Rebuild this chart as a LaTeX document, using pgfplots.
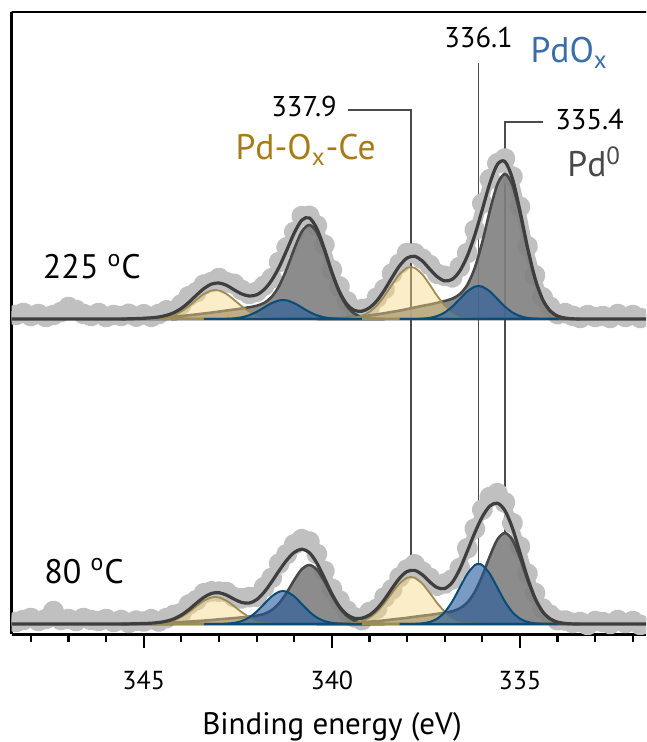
\documentclass[border=0pt]{standalone}
\usepackage{pgfplots}
\pgfplotsset{compat=1.18}
\usepackage{fontspec}
\setmainfont{PT Sans}
\newcommand\fs[1]{\fontsize{#1}{#1}\selectfont}
\definecolor{rawgray}{RGB}{192,192,192}
\definecolor{envgray}{RGB}{62,62,62}
\definecolor{pdgray}{RGB}{128,128,128}
\definecolor{pdline}{RGB}{72,72,72}
\definecolor{oxfill}{RGB}{34,90,157}
\definecolor{oxline}{RGB}{10,76,120}
\definecolor{cefill}{RGB}{246,216,130}
\definecolor{celine}{RGB}{160,140,80}
\definecolor{cetext}{RGB}{166,124,22}
\definecolor{oxtext}{RGB}{58,110,168}
\definecolor{dropline}{RGB}{75,75,75}
\pgfplotsset{
  raw/.style={rawgray, line width=5pt, line join=round, line cap=round, mark=*, mark size=2.8pt,
              mark options={draw=none, fill=rawgray}},
  envelope/.style={envgray, line width=1.6pt, smooth, no marks},
  pdzero/.style={draw=pdline, line width=1.3pt, fill=pdgray, fill opacity=0.9, smooth, no marks},
  pdox/.style={draw=oxline, line width=1pt, fill=oxfill, fill opacity=0.6, smooth, no marks},
  pdce/.style={draw=celine, line width=0.9pt, fill=cefill, fill opacity=0.45, smooth, no marks},
  drop/.style={dropline, line width=0.85pt, no marks},
}
\begin{document}
\begin{tikzpicture}
\useasboundingbox (-5.85pt,-54pt) rectangle (317.15pt,317pt);
\begin{axis}[
  scale only axis, width=317.15pt, height=311pt,
  x dir=reverse, xmin=331.65, xmax=348.51, ymin=-10, ymax=612,
  axis x line*=bottom, axis y line*=left,
  axis line style={-, line width=1.5pt, black},
  ytick=\empty, xtick={335,340,345},
  minor xtick={332,333,334,336,337,338,339,341,342,343,344,346,347,348},
  tick align=outside, major tick length=7pt, minor tick length=4pt,
  every tick/.style={black, line width=1.1pt},
  xticklabel style={font=\fs{13}, yshift=-8pt},
  /pgf/number format/assume math mode=true,
  xlabel={Binding energy (eV)},
  x label style={font=\fs{15.5}, at={(axis description cs:0.505,0)}, anchor=base, yshift=-50pt},
  clip=true, clip marker paths=true,
]
\draw[line width=1.5pt, line cap=rect] (rel axis cs:0,1) -- (rel axis cs:1,1);

% peak position guides
\addplot[drop] coordinates {(339.58,514) (337.9,514) (337.9,47)};
\addplot[drop] coordinates {(336.1,561) (336.1,60)};
\addplot[drop] coordinates {(334.39,502.3) (335.4,502.3) (335.4,91)};

% measured spectra
\addplot[raw] coordinates {
(331.6,308) (331.8,306) (332.0,309) (332.2,307) (332.4,310) (332.6,306) (332.8,308)
(333.0,307) (333.2,309) (333.4,306) (333.6,308.2) (333.8,310.9) (334.0,309.9) (334.2,317.2)
(334.4,326.7) (334.6,348.7) (334.8,377.7) (335.0,417.2) (335.2,447.4) (335.4,465.4)
(335.6,460.6) (335.8,444.8) (336.0,420.6) (336.2,394.0) (336.4,370.9) (336.6,357.0)
(336.8,346.7) (337.0,348.1) (337.2,350.3) (337.4,359.0) (337.6,365.2) (337.8,370.7)
(338.0,371.0) (338.2,360.2) (338.4,350.5) (338.6,335.0) (338.8,326.4) (339.0,316.2)
(339.2,314.8) (339.4,314.6) (339.6,322.7) (339.8,337.5) (340.0,354.0) (340.2,379.2)
(340.4,398.5) (340.6,408.1) (340.8,407.8) (341.0,392.0) (341.2,376.7) (341.4,362.0)
(341.6,345.7) (341.8,338.4) (342.0,332.2) (342.2,330.0) (342.4,334.1) (342.6,340.2)
(342.8,341.7) (343.0,346.0) (343.2,341.9) (343.4,339.4) (343.6,331.8) (343.8,327.7)
(344.0,319.6) (344.2,313.3) (344.4,313.6) (344.6,310.0) (344.8,307.2) (345.0,309.7)
(345.2,307.4) (345.4,310.2) (345.6,308) (345.8,309) (346.0,307) (346.2,311) (346.4,308)
(346.6,310) (346.8,314) (347.0,317) (347.2,312) (347.4,309) (347.6,307) (347.8,310)
(348.0,308) (348.2,311) (348.4,309) (348.6,307)};
\addplot[raw] coordinates {
(331.6,2) (331.8,-1) (332.0,3) (332.2,1) (332.4,4) (332.6,0) (332.8,2) (333.0,3)
(333.2,-1) (333.4,2) (333.6,1.1) (333.8,3.5) (334.0,3.8) (334.2,9.2) (334.4,15.5)
(334.6,31.0) (334.8,50.3) (335.0,77.4) (335.2,100.9) (335.4,121.5) (335.6,130.8)
(335.8,127.0) (336.0,114.3) (336.2,95.3) (336.4,75.7) (336.6,55.8) (336.8,44.6)
(337.0,40.5) (337.2,38.4) (337.4,46.2) (337.6,52.4) (337.8,59.6) (338.0,54.5)
(338.2,46.8) (338.4,34.6) (338.6,26.6) (338.8,15.3) (339.0,12.0) (339.2,3.8) (339.4,6.7)
(339.6,13.4) (339.8,23.5) (340.0,35.2) (340.2,53.0) (340.4,70.0) (340.6,82.4)
(340.8,84.8) (341.0,79.6) (341.2,69.8) (341.4,60.4) (341.6,46.1) (341.8,36.8)
(342.0,27.3) (342.2,26.9) (342.4,25.6) (342.6,26.9) (342.8,31.9) (343.0,32.3)
(343.2,32.6) (343.4,30.7) (343.6,23.8) (343.8,19.4) (344.0,11.0) (344.2,9.1) (344.4,5.8)
(344.6,2.5) (344.8,4.8) (345.0,2.5) (345.2,3.3) (345.4,1.1) (345.6,4) (345.8,2) (346.0,5)
(346.2,3) (346.4,4) (346.6,6) (346.8,3) (347.0,5) (347.2,4) (347.4,13) (347.6,5)
(347.8,3) (348.0,6) (348.2,4) (348.4,2) (348.6,5)};

% ---- 225 C fit components ----
\addplot[pdzero] coordinates {
(333.4,305.0) (333.6,305.2) (333.8,305.9) (334.0,307.9) (334.2,313.1) (334.4,324.6)
(334.6,345.3) (334.8,375.6) (335.0,410.3) (335.2,438.9) (335.4,450.0) (335.6,439.6)
(335.8,413.2) (336.0,382.1) (336.2,356.2) (336.4,339.1) (336.6,329.8) (336.8,325.3)
(337.0,323.0) (337.2,321.2) (337.4,319.5) (337.6,318.1) (337.8,316.5) (338.0,314.9)
(338.2,313.4) (338.4,312.1) (338.6,310.8) (338.8,309.6) (339.0,308.6) (339.2,307.8)
(339.4,307.0) (339.6,306.5) (339.8,306.0) (340.0,305.6) (340.2,305.3) (340.4,305.0)} -- cycle;
\addplot[pdzero] coordinates {
(338.6,305.0) (338.8,305.1) (339.0,305.6) (339.2,306.9) (339.4,310.3) (339.6,317.7)
(339.8,331.1) (340.0,350.8) (340.2,373.3) (340.4,391.8) (340.6,399.0) (340.8,392.2)
(341.0,375.1) (341.2,355.0) (341.4,338.2) (341.6,327.1) (341.8,321.1) (342.0,318.2)
(342.2,316.7) (342.4,315.5) (342.6,314.4) (342.8,313.5) (343.0,312.4) (343.2,311.4)
(343.4,310.5) (343.6,309.6) (343.8,308.8) (344.0,308.0) (344.2,307.4) (344.4,306.8)
(344.6,306.3) (344.8,305.9) (345.0,305.7) (345.2,305.4) (345.4,305.2) (345.6,305.0)} -- cycle;
\addplot[pdce] coordinates {
(335.6,305) (335.8,305.04) (336.0,305.14) (336.2,305.44) (336.4,306.26) (336.6,308.18)
(336.8,312.04) (337.0,318.63) (337.2,328.13) (337.4,339.40) (337.6,349.81) (337.8,356.15)
(337.9,357) (338.0,356.15) (338.2,349.81) (338.4,339.40) (338.6,328.13) (338.8,318.63)
(339.0,312.04) (339.2,308.18) (339.4,306.26) (339.6,305.44) (339.8,305.14) (340.0,305.04)
(340.2,305)} -- cycle;
\addplot[pdce] coordinates {
(340.8,305) (341.0,305.02) (341.2,305.08) (341.4,305.24) (341.6,305.70) (341.8,306.77)
(342.0,308.92) (342.2,312.60) (342.4,317.90) (342.6,324.18) (342.8,329.99) (343.0,333.52)
(343.1,334) (343.2,333.52) (343.4,329.99) (343.6,324.18) (343.8,317.90) (344.0,312.60)
(344.2,308.92) (344.4,306.77) (344.6,305.70) (344.8,305.24) (345.0,305.08) (345.2,305.02)
(345.4,305)} -- cycle;
\addplot[pdox] coordinates {
(334.0,305) (334.2,305.02) (334.4,305.10) (334.6,305.37) (334.8,306.12) (335.0,307.93)
(335.2,311.53) (335.4,317.38) (335.6,325.01) (335.8,332.56) (336.0,337.35) (336.1,338.0)
(336.2,337.35) (336.4,332.56) (336.6,325.01) (336.8,317.38) (337.0,311.53) (337.2,307.93)
(337.4,306.12) (337.6,305.37) (337.8,305.10) (338.0,305.02) (338.2,305)} -- cycle;
\addplot[pdox] coordinates {
(339.2,305) (339.4,305.01) (339.6,305.06) (339.8,305.21) (340.0,305.65) (340.2,306.69)
(340.4,308.76) (340.6,312.13) (340.8,316.52) (341.0,320.87) (341.2,323.62) (341.3,324)
(341.4,323.62) (341.6,320.87) (341.8,316.52) (342.0,312.13) (342.2,308.76) (342.4,306.69)
(342.6,305.65) (342.8,305.21) (343.0,305.06) (343.2,305.01) (343.4,305)} -- cycle;
\addplot[envelope] coordinates {
(331.6,305) (332.2,305) (332.7,305) (333.0,305) (333.2,305) (333.4,305) (333.6,305.2)
(333.8,305.9) (334.0,307.9) (334.2,313.2) (334.4,324.7) (334.6,345.7) (334.8,376.7)
(335.0,413.2) (335.2,445.4) (335.4,462.4) (335.6,459.6) (335.8,440.8) (336.0,414.6)
(336.2,389.0) (336.4,367.9) (336.6,353.0) (336.8,344.7) (337.0,343.1) (337.2,347.3)
(337.4,355.0) (337.6,363.2) (337.8,367.7) (338.0,366.0) (338.2,358.2) (338.4,346.5)
(338.6,334.0) (338.8,323.4) (339.0,316.2) (339.2,312.8) (339.4,313.6) (339.6,319.7)
(339.8,332.5) (340.0,352.0) (340.2,375.2) (340.4,395.5) (340.6,406.1) (340.8,403.8)
(341.0,391.0) (341.2,373.7) (341.4,357.0) (341.6,343.7) (341.8,334.4) (342.0,329.2)
(342.2,328.0) (342.4,330.1) (342.6,334.2) (342.8,338.7) (343.0,341.0) (343.2,339.9)
(343.4,335.4) (343.6,328.8) (343.8,321.7) (344.0,315.6) (344.2,311.3) (344.4,308.6)
(344.6,307.0) (344.8,306.2) (345.0,305.7) (345.2,305.4) (345.4,305.2) (345.6,305)
(346.2,305) (347.0,305) (347.8,305) (348.6,305)};

% ---- 80 C fit components ----
\addplot[pdzero] coordinates {
(333.4,0) (333.6,0.1) (333.8,0.6) (334.0,1.8) (334.2,5.1) (334.4,12.3) (334.6,25.3)
(334.8,44.3) (335.0,66.1) (335.2,84.0) (335.4,91.0) (335.6,84.5) (335.8,67.9) (336.0,48.4)
(336.2,32.1) (336.4,21.4) (336.6,15.6) (336.8,12.7) (337.0,11.3) (337.2,10.2) (337.4,9.1)
(337.6,8.2) (337.8,7.2) (338.0,6.2) (338.2,5.3) (338.4,4.5) (338.6,3.6) (338.8,2.9)
(339.0,2.3) (339.2,1.7) (339.4,1.3) (339.6,0.9) (339.8,0.6) (340.0,0.4) (340.2,0.2)
(340.4,0)} -- cycle;
\addplot[pdzero] coordinates {
(338.6,0) (338.8,0.1) (339.0,0.4) (339.2,1.2) (339.4,3.3) (339.6,8.0) (339.8,16.4)
(340.0,28.7) (340.2,42.8) (340.4,54.5) (340.6,59.0) (340.8,54.8) (341.0,44.0) (341.2,31.4)
(341.4,20.8) (341.6,13.9) (341.8,10.1) (342.0,8.3) (342.2,7.3) (342.4,6.6) (342.6,5.9)
(342.8,5.3) (343.0,4.7) (343.2,4.0) (343.4,3.4) (343.6,2.9) (343.8,2.4) (344.0,1.9)
(344.2,1.5) (344.4,1.1) (344.6,0.8) (344.8,0.6) (345.0,0.4) (345.2,0.2) (345.4,0.1)
(345.6,0)} -- cycle;
\addplot[pdce] coordinates {
(335.6,0) (335.8,0.03) (336.0,0.12) (336.2,0.39) (336.4,1.14) (336.6,2.88) (336.8,6.36)
(337.0,12.32) (337.2,20.91) (337.4,31.09) (337.6,40.50) (337.8,46.23) (337.9,47)
(338.0,46.23) (338.2,40.50) (338.4,31.09) (338.6,20.91) (338.8,12.32) (339.0,6.36)
(339.2,2.88) (339.4,1.14) (339.6,0.39) (339.8,0.12) (340.0,0.03) (340.2,0)} -- cycle;
\addplot[pdce] coordinates {
(340.8,0) (341.0,0.02) (341.2,0.07) (341.4,0.23) (341.6,0.66) (341.8,1.65) (342.0,3.65)
(342.2,7.08) (342.4,12.01) (342.6,17.86) (342.8,23.27) (343.0,26.56) (343.1,27)
(343.2,26.56) (343.4,23.27) (343.6,17.86) (343.8,12.01) (344.0,7.08) (344.2,3.65)
(344.4,1.65) (344.6,0.66) (344.8,0.23) (345.0,0.07) (345.2,0.02) (345.4,0)} -- cycle;
\addplot[pdox] coordinates {
(334.0,0) (334.2,0.04) (334.4,0.19) (334.6,0.67) (334.8,2.04) (335.0,5.33) (335.2,11.87)
(335.4,22.52) (335.6,36.39) (335.8,50.12) (336.0,58.81) (336.1,60) (336.2,58.81)
(336.4,50.12) (336.6,36.39) (336.8,22.52) (337.0,11.87) (337.2,5.33) (337.4,2.04)
(337.6,0.67) (337.8,0.19) (338.0,0.04) (338.2,0)} -- cycle;
\addplot[pdox] coordinates {
(339.2,0) (339.4,0.02) (339.6,0.10) (339.8,0.37) (340.0,1.12) (340.2,2.93) (340.4,6.53)
(340.6,12.38) (340.8,20.01) (341.0,27.56) (341.2,32.35) (341.3,33) (341.4,32.35)
(341.6,27.56) (341.8,20.01) (342.0,12.38) (342.2,6.53) (342.4,2.93) (342.6,1.12)
(342.8,0.37) (343.0,0.10) (343.2,0.02) (343.4,0)} -- cycle;
\addplot[envelope] coordinates {
(331.6,0) (332.2,0) (332.7,0) (333.0,0) (333.2,0) (333.4,0) (333.6,0.1) (333.8,0.5)
(334.0,1.8) (334.2,5.2) (334.4,12.5) (334.6,26.0) (334.8,46.3) (335.0,71.4) (335.2,95.9)
(335.4,113.5) (335.6,120.8) (335.8,118.0) (336.0,107.3) (336.2,91.3) (336.4,72.7)
(336.6,54.8) (336.8,41.6) (337.0,35.5) (337.2,36.4) (337.4,42.2) (337.6,49.4) (337.8,53.6)
(338.0,52.5) (338.2,45.8) (338.4,35.6) (338.6,24.6) (338.8,15.3) (339.0,9.0) (339.2,5.8)
(339.4,5.7) (339.6,9.4) (339.8,17.5) (340.0,30.2) (340.2,46.0) (340.4,61.0) (340.6,71.4)
(340.8,74.8) (341.0,71.6) (341.2,63.8) (341.4,53.4) (341.6,42.1) (341.8,31.8) (342.0,24.3)
(342.2,20.9) (342.4,21.6) (342.6,24.9) (342.8,28.9) (343.0,31.3) (343.2,30.6) (343.4,26.7)
(343.6,20.8) (343.8,14.4) (344.0,9.0) (344.2,5.1) (344.4,2.8) (344.6,1.5) (344.8,0.8)
(345.0,0.5) (345.2,0.3) (345.4,0.1) (345.6,0) (346.2,0) (347.0,0) (347.8,0) (348.6,0)};

% labels
\node[anchor=base east, inner sep=0, font=\fs{14.3}] at (axis cs:339.86,507) {337.9};
\node[anchor=base west, inner sep=0, font=\fs{17.8}, text=cetext] at (axis cs:342.57,464) {Pd-O\textsubscript{x}-Ce};
\node[anchor=base, inner sep=0, font=\fs{14.3}] at (axis cs:336.1,576) {336.1};
\node[anchor=base west, inner sep=0, font=\fs{17.8}, text=oxtext] at (axis cs:334.73,561) {PdO\textsubscript{x}};
\node[anchor=base west, inner sep=0, font=\fs{14.3}] at (axis cs:334.07,494) {335.4};
\node[anchor=base west, inner sep=0, font=\fs{17.8}, text=pdline] at (axis cs:333.75,447) {Pd\textsuperscript{0}};
\node[anchor=base west, inner sep=0, font=\fs{17}] at (axis cs:347.69,345) {225 \textsuperscript{o}C};
\node[anchor=base west, inner sep=0, font=\fs{17}] at (axis cs:347.65,41) {80 \textsuperscript{o}C};
\end{axis}
\end{tikzpicture}
\end{document}
